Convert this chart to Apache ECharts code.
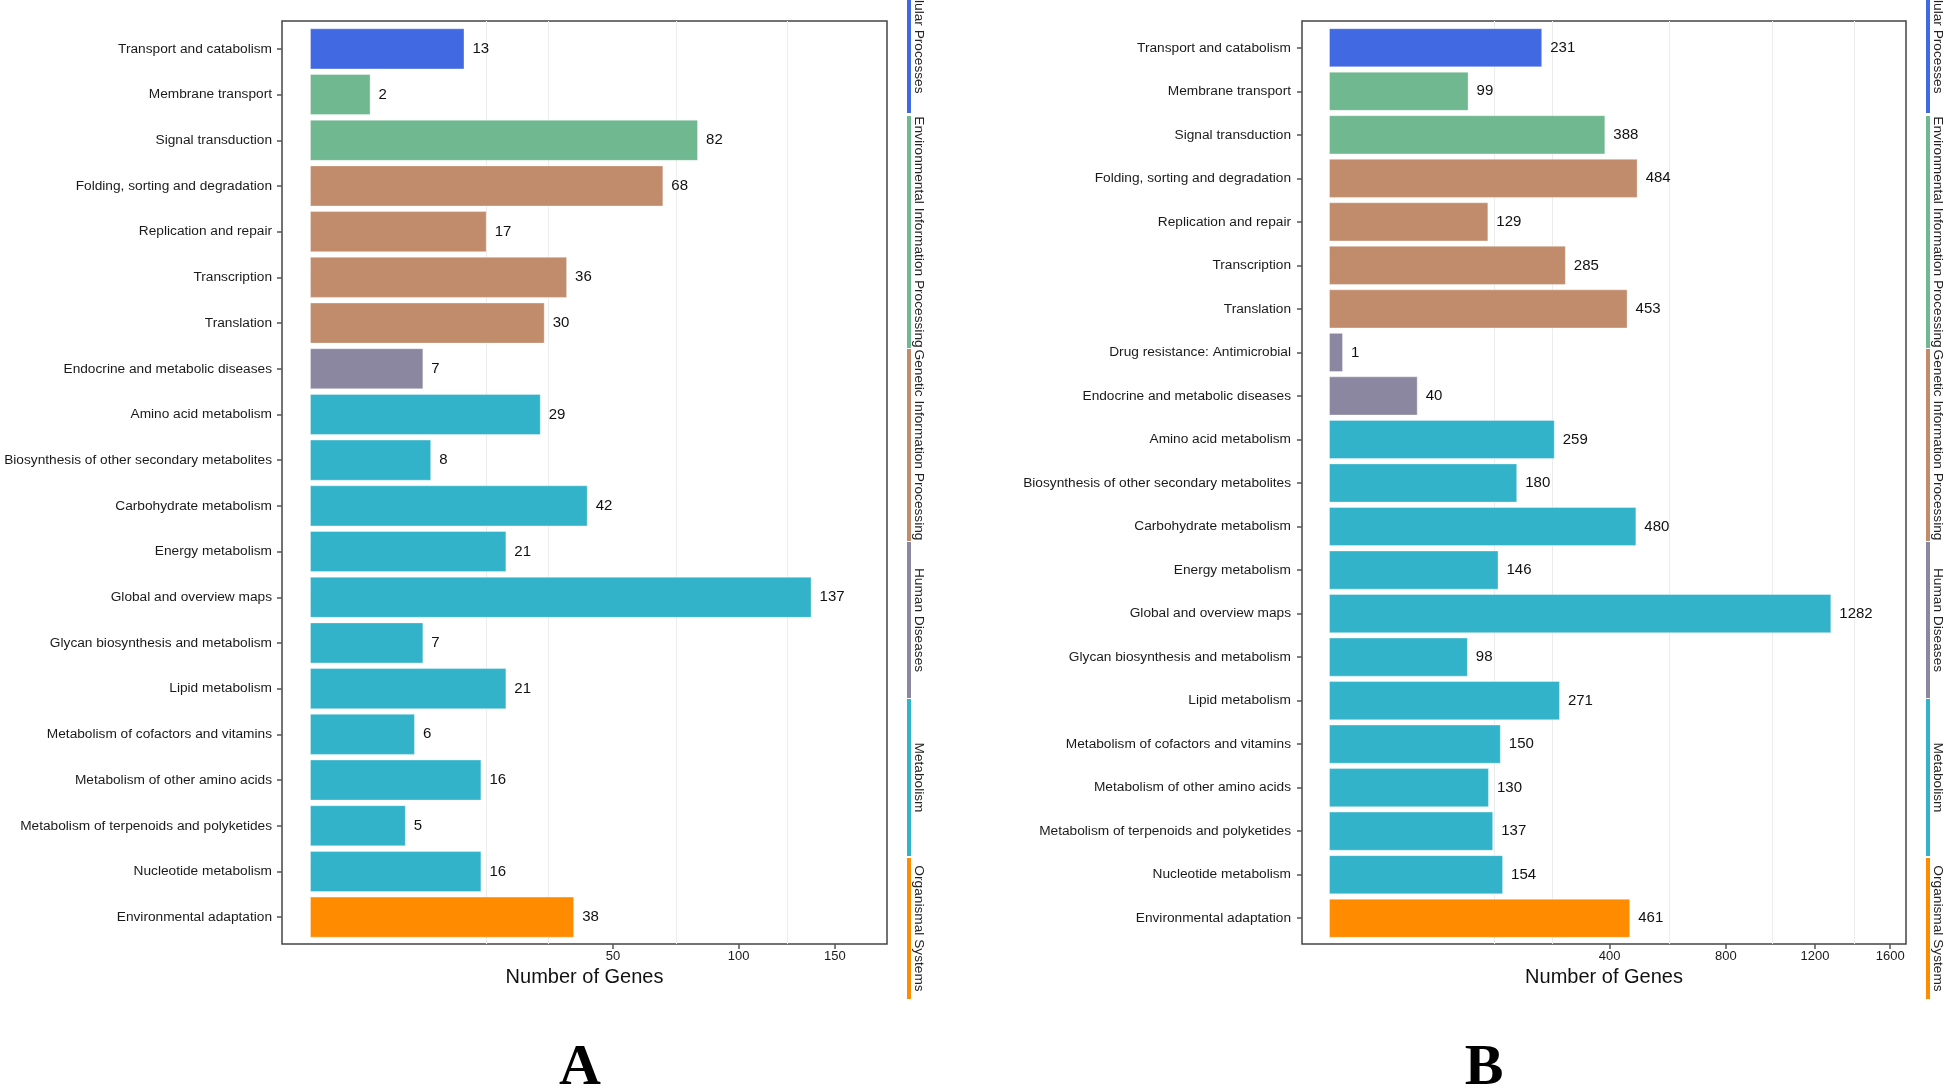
<!DOCTYPE html>
<html><head><meta charset="utf-8">
<script src="https://cdn.jsdelivr.net/npm/echarts@6/dist/echarts.min.js"></script>
<style>html,body{margin:0;padding:0;background:#fff}#c{width:1946px;height:1092px}</style>
</head><body><div id="c"></div>
<script>
// ---------------- DATA ----------------
const categoriesA = ['Transport and catabolism','Membrane transport','Signal transduction','Folding, sorting and degradation','Replication and repair','Transcription','Translation','Endocrine and metabolic diseases','Amino acid metabolism','Biosynthesis of other secondary metabolites','Carbohydrate metabolism','Energy metabolism','Global and overview maps','Glycan biosynthesis and metabolism','Lipid metabolism','Metabolism of cofactors and vitamins','Metabolism of other amino acids','Metabolism of terpenoids and polyketides','Nucleotide metabolism','Environmental adaptation'];
const valuesA = [13,2,82,68,17,36,30,7,29,8,42,21,137,7,21,6,16,5,16,38];
const groupsA = [0,1,1,2,2,2,2,3,4,4,4,4,4,4,4,4,4,4,4,5];

const categoriesB = ['Transport and catabolism','Membrane transport','Signal transduction','Folding, sorting and degradation','Replication and repair','Transcription','Translation','Drug resistance: Antimicrobial','Endocrine and metabolic diseases','Amino acid metabolism','Biosynthesis of other secondary metabolites','Carbohydrate metabolism','Energy metabolism','Global and overview maps','Glycan biosynthesis and metabolism','Lipid metabolism','Metabolism of cofactors and vitamins','Metabolism of other amino acids','Metabolism of terpenoids and polyketides','Nucleotide metabolism','Environmental adaptation'];
const valuesB = [231,99,388,484,129,285,453,1,40,259,180,480,146,1282,98,271,150,130,137,154,461];
const groupsB = [0,1,1,2,2,2,2,3,3,4,4,4,4,4,4,4,4,4,4,4,5];

const groupNames = ['Cellular Processes','Environmental Information Processing','Genetic Information Processing','Human Diseases','Metabolism','Organismal Systems'];
const groupColors = ['#4169e1','#6fb890','#c08c6c','#8c87a0','#33b3c9','#ff8c00'];

const tickValuesA = [50,100,150];
const tickValuesB = [400,800,1200,1600];
const gridValuesA = [17,31,73,124];
const gridValuesB = [138,253,587,997,1400];

// ---------------- LAYOUT ----------------
const FONT = '"Liberation Sans", Arial, sans-serif';
const panels = [
  {cats: categoriesA, vals: valuesA, grps: groupsA, ticks: tickValuesA, grid: gridValuesA,
   left: 282, width: 605, sMin: -0.653, sMax: 13.465, labelMargin: 10,
   stripX: 907, textX: 919, letterX: 580, letter: 'A'},
  {cats: categoriesB, vals: valuesB, grps: groupsB, ticks: tickValuesB, grid: gridValuesB,
   left: 1302, width: 604, sMin: -1.924, sMax: 41.13, labelMargin: 11,
   stripX: 1926, textX: 1938, letterX: 1484, letter: 'B'}
];
const innerTop = 26, innerH = 914, frameTop = 21, frameH = 923;
const stripSegs = [[-40,113],[116,348],[349,541],[542,698],[699,856],[858,999]];

const grids = [], xAxes = [], yAxes = [], series = [], graphics = [];
panels.forEach((p, k) => {
  const gi = grids.length;
  grids.push({left: p.left, top: innerTop, width: p.width, height: innerH, show: false});
  grids.push({left: p.left, top: frameTop, width: p.width, height: frameH, show: true,
              borderColor: '#444', borderWidth: 1.5, backgroundColor: 'transparent'});
  xAxes.push({type: 'value', gridIndex: gi, min: p.sMin, max: p.sMax, show: false});
  xAxes.push({type: 'value', gridIndex: gi + 1, min: p.sMin, max: p.sMax,
    axisLine: {show: false, onZero: false}, splitLine: {show: false},
    axisTick: {show: true, length: 5, customValues: p.ticks.map(Math.sqrt), lineStyle: {color: '#555', width: 1.5}},
    axisLabel: {customValues: p.ticks.map(Math.sqrt), formatter: v => String(Math.round(v * v)),
                fontSize: 13, color: '#1a1a1a', fontFamily: FONT, margin: 6},
    name: 'Number of Genes', nameLocation: 'middle', nameGap: 23,
    nameTextStyle: {fontSize: 20, color: '#111', fontFamily: FONT}});
  yAxes.push({type: 'category', gridIndex: gi, data: p.cats, inverse: true,
    axisLine: {show: false, onZero: false}, splitLine: {show: false},
    axisTick: {show: true, alignWithLabel: true, length: 5, lineStyle: {color: '#555', width: 1.5}},
    axisLabel: {interval: 0, fontSize: 13.7, color: '#1a1a1a', fontFamily: FONT, margin: p.labelMargin}});
  yAxes.push({type: 'value', gridIndex: gi + 1, show: false, min: 0, max: 1});
  series.push({type: 'line', xAxisIndex: gi + 1, yAxisIndex: gi + 1, data: [], z: 1, silent: true,
    markLine: {silent: true, z: 1, symbol: ['none', 'none'], label: {show: false}, animation: false,
      lineStyle: {color: '#ececec', width: 1, type: 'solid'},
      data: p.grid.map(v => ({xAxis: Math.sqrt(v)}))}});
  series.push({type: 'bar', xAxisIndex: gi, yAxisIndex: gi, z: 3, barCategoryGap: '10%',
    data: p.vals.map((v, i) => ({value: Math.sqrt(v),
      itemStyle: {color: groupColors[p.grps[i]], borderColor: 'rgba(255,255,255,0.35)', borderWidth: 1}})),
    label: {show: true, position: 'right', distance: 8, fontSize: 15, color: '#111', fontFamily: FONT,
      formatter: prm => String(p.vals[prm.dataIndex])}});
  // group strip
  stripSegs.forEach((s, j) => {
    graphics.push({type: 'rect', shape: {x: p.stripX, y: s[0], width: 4, height: s[1] - s[0]},
      style: {fill: groupColors[j]}, silent: true});
    graphics.push({type: 'text', x: p.textX, y: (s[0] + s[1]) / 2, rotation: -Math.PI / 2,
      style: {text: groupNames[j], fill: '#222', font: '13.7px ' + FONT, textAlign: 'center', textVerticalAlign: 'middle'},
      silent: true});
  });
  graphics.push({type: 'text', x: p.letterX, y: 1069,
    style: {text: p.letter, fill: '#000', font: 'bold 58px "Liberation Serif", "Times New Roman", serif',
            textAlign: 'center', textVerticalAlign: 'middle'}, silent: true});
});

const chart = echarts.init(document.getElementById('c'), null, {renderer: 'canvas'});
chart.setOption({
  animation: false,
  backgroundColor: '#fff',
  grid: grids, xAxis: xAxes, yAxis: yAxes, series: series,
  graphic: {elements: graphics}
});
</script></body></html>
